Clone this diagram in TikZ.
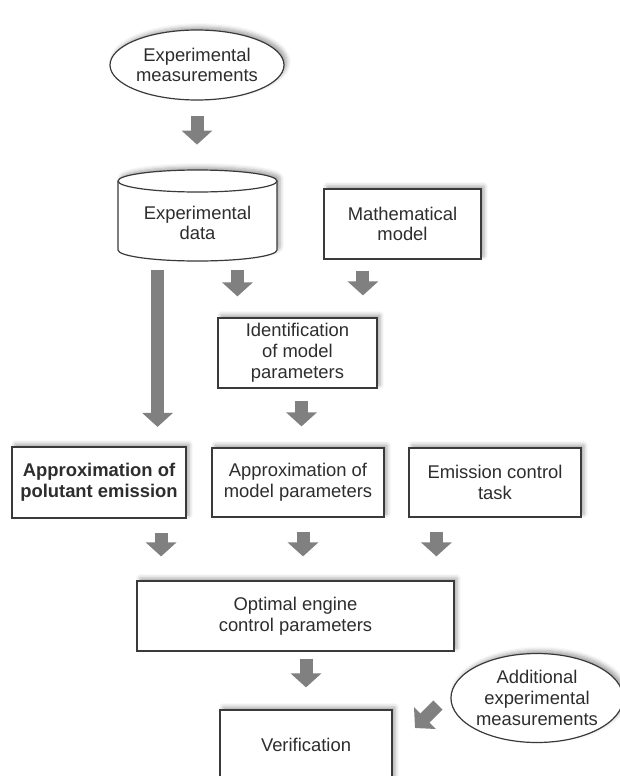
\documentclass[tikz,border=0pt]{standalone}
\usepackage{fontspec}
\setmainfont{Liberation Sans}
\usepackage{tikz}
\usetikzlibrary{shapes.geometric, arrows.meta, calc, shadows.blur}

\definecolor{arrowgray}{RGB}{128,128,128}
\definecolor{linegray}{RGB}{58,58,58}
\definecolor{textgray}{RGB}{45,45,45}

\tikzset{
  softshadow/.style={blur shadow={shadow xshift=1.5pt, shadow yshift=1.5pt, shadow blur radius=2pt, shadow opacity=35}},
  box/.style={rectangle, draw=linegray, line width=0.6pt, fill=white, softshadow, align=center, inner sep=0pt},
  oval/.style={ellipse, draw=linegray, line width=0.6pt, fill=white, softshadow, align=center, inner sep=0pt},
  cylline/.style={draw=linegray, line width=0.6pt, fill=white},
  fatarrow/.style={arrowgray, line width=6.5pt, -{Triangle[width=15pt, length=7pt]}},
}

\begin{document}
\begin{tikzpicture}[x=0.5pt, y=-0.5pt, font=\fontsize{9.2}{10.4}\selectfont, text=textgray]
    \useasboundingbox (0,0) rectangle (620,776);

    % inputs
    \node[oval, minimum width=87pt, minimum height=35pt] (meas) at (197,65) {Experimental\\measurements};
    \draw[cylline, softshadow] (118,181) -- (118,250) arc[start angle=180, end angle=360, x radius=39.75pt, y radius=5.5pt]
        -- (277,181) arc[start angle=0, end angle=180, x radius=39.75pt, y radius=5.5pt] -- cycle;
    \draw[cylline] (118,181) arc[start angle=180, end angle=360, x radius=39.75pt, y radius=5.5pt];
    \node[minimum width=79.5pt, minimum height=38pt, inner sep=0pt, align=center] (data) at (197.5,223) {Experimental\\data};
    \node[box, minimum width=78.5pt, minimum height=35pt] (model) at (402.5,224) {Mathematical\\model};

    % middle rows
    \node[box, minimum width=79.5pt, minimum height=35pt] (ident) at (297.5,353) {Identification\\of model\\parameters};
    \node[box, line width=1.1pt, minimum width=87pt, minimum height=35.5pt, font=\fontsize{9.2}{10.4}\selectfont\bfseries] (apol) at (99,482.5) {Approximation of\\polutant emission};
    \node[box, minimum width=86pt, minimum height=34.5pt] (apm) at (298,482.5) {Approximation of\\model parameters};
    \node[box, minimum width=86pt, minimum height=34.5pt] (ect) at (495,482.5) {Emission control\\task};

    % outputs
    \node[box, minimum width=158.5pt, minimum height=35pt] (opt) at (295.5,616) {Optimal engine\\control parameters};
    \node[box, minimum width=86pt, minimum height=35pt] (verif) at (306,745) {Verification};
    \node[oval, minimum width=83pt, minimum height=44.5pt] (add) at (537,698) {Additional\\experimental\\measurements};

    % arrows
    \draw[fatarrow, shorten <=7.5pt, shorten >=20pt] (meas.south) -- (meas.south |- data.north);
    \draw[fatarrow, shorten <=4.5pt, shorten >=9.5pt] ($(data.south west)!0.25!(data.south east)$) coordinate (d1) -- (d1 |- apol.north);
    \draw[fatarrow, shorten <=4.5pt, shorten >=10.5pt] ($(data.south west)!0.75!(data.south east)$) coordinate (d2) -- (d2 |- ident.north);
    \draw[fatarrow, shorten <=5.5pt, shorten >=11pt] ($(model.south west)!0.25!(model.south east)$) coordinate (m1) -- (m1 |- ident.north);
    \draw[fatarrow, shorten <=6pt, shorten >=10.5pt] ($(ident.south)+(4,0)$) coordinate (i1) -- (i1 |- apm.north);
    \foreach \src/\dx in {apol.south east/-26, apm.south/5, ect.south west/28} {
        \draw[fatarrow, shorten <=7pt, shorten >=12pt] ($(\src)+(\dx,0)$) coordinate (s) -- (s |- opt.north);
    }
    \draw[fatarrow, shorten <=3.5pt, shorten >=11pt] (opt.south -| verif.north) -- (verif.north);
    \coordinate (addtail) at (438,705);
    \coordinate (addtip) at (415,728);
    \draw[fatarrow] (addtail) -- (addtip);
\end{tikzpicture}
\end{document}
